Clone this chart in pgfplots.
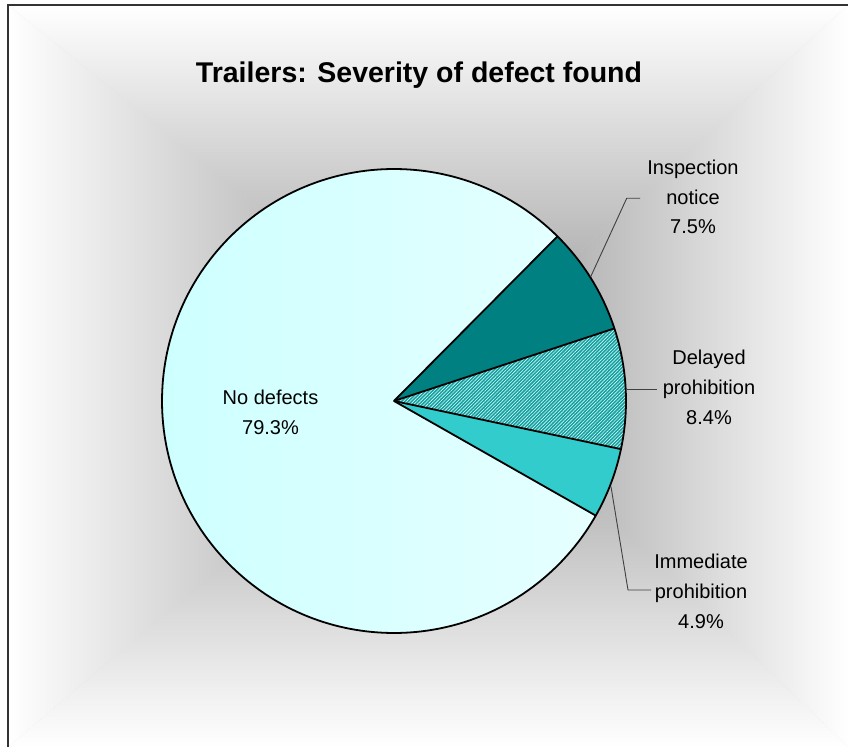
\documentclass[border=0pt]{standalone}
\usepackage{pgfplots}
\pgfplotsset{compat=1.18}
\usepackage{pgfplotstable}
\usepackage{fontspec}
\setmainfont{Liberation Sans}
\usetikzlibrary{patterns.meta}
\definecolor{inspect}{RGB}{0,128,128}
\definecolor{delayed}{RGB}{25,158,158}
\definecolor{immed}{RGB}{51,204,204}
\definecolor{nodefL}{RGB}{204,255,255}
\definecolor{nodefR}{RGB}{230,255,255}
\definecolor{bgc}{RGB}{150,150,150}
\definecolor{bgm}{RGB}{220,220,220}
\definecolor{bord}{RGB}{51,51,51}

\pgfplotstableread{
name value
Inspection 7.5
Delayed 8.4
Immediate 4.9
NoDefects 79.3
}\piedata

\begin{document}%
\begin{tikzpicture}
\pgfplotstablegetelem{0}{value}\of\piedata \let\vA\pgfplotsretval
\pgfplotstablegetelem{1}{value}\of\piedata \let\vB\pgfplotsretval
\pgfplotstablegetelem{2}{value}\of\piedata \let\vC\pgfplotsretval
\pgfplotstablegetelem{3}{value}\of\piedata \let\vD\pgfplotsretval
\pgfmathsetmacro\total{\vA+\vB+\vC+\vD}
\pgfmathsetmacro\aA{45.2}
\pgfmathsetmacro\aB{\aA-\vA/\total*360}
\pgfmathsetmacro\aC{\aB-\vB/\total*360}
\pgfmathsetmacro\aD{\aC-\vC/\total*360}
\pgfmathsetmacro\aE{\aD-\vD/\total*360}
\useasboundingbox (0,0) rectangle (848pt,747pt);
\begin{axis}[name=ax, anchor=origin, at={(0,0)}, x=1pt, y=1pt, xmin=0, xmax=848, ymin=0, ymax=747,
  hide axis, clip=false]
% background
\fill[white] (axis cs:0,0) rectangle (axis cs:848,747);
\fill[bgm] (axis cs:8,0) rectangle (axis cs:848,742);
\shade[top color=white, middle color=bgm, bottom color=bgc] (axis cs:8,742) -- (axis cs:848,742) -- (axis cs:455,380) -- cycle;
\shade[top color=bgc, middle color=bgm, bottom color=white] (axis cs:8,0) -- (axis cs:848,0) -- (axis cs:455,380) -- cycle;
\shade[left color=white, middle color=bgm, right color=bgc] (axis cs:8,0) -- (axis cs:8,742) -- (axis cs:455,380) -- cycle;
\shade[left color=bgc, middle color=bgm, right color=white] (axis cs:848,0) -- (axis cs:848,742) -- (axis cs:455,380) -- cycle;
% border
\draw[bord, line width=2pt] (axis cs:8,0) -- (axis cs:8,742) -- (axis cs:848,742);
% title
\node[anchor=base, font=\fontsize{28.5}{34}\selectfont\bfseries] at (axis cs:419,664) {Trailers: Severity of defect found};
% pie slices
\shade[left color=nodefL, right color=nodefR] (axis cs:394,346) -- ++(\aD:232pt) arc[start angle=\aD, end angle=\aE, radius=232pt] -- cycle;
\fill[inspect] (axis cs:394,346) -- ++(\aA:232pt) arc[start angle=\aA, end angle=\aB, radius=232pt] -- cycle;
\fill[delayed] (axis cs:394,346) -- ++(\aB:232pt) arc[start angle=\aB, end angle=\aC, radius=232pt] -- cycle;
\fill[pattern={Lines[angle=45, distance=2.4pt, line width=0.6pt]}, pattern color=white!80!cyan] (axis cs:394,346) -- ++(\aB:232pt) arc[start angle=\aB, end angle=\aC, radius=232pt] -- cycle;
\fill[immed] (axis cs:394,346) -- ++(\aC:232pt) arc[start angle=\aC, end angle=\aD, radius=232pt] -- cycle;
\draw[black, line width=1.8pt, line join=round] (axis cs:394,346) -- ++(\aA:232pt) arc[start angle=\aA, end angle=\aE, radius=232pt] -- cycle;
\draw[black, line width=1.8pt, line join=round] (axis cs:394,346) -- ++(\aB:232pt);
\draw[black, line width=1.8pt, line join=round] (axis cs:394,346) -- ++(\aC:232pt);
\draw[black, line width=1.8pt, line join=round] (axis cs:394,346) -- ++(\aD:232pt);
% leader lines
\draw[black!75, line width=0.9pt] (axis cs:590.7,470.3) -- (axis cs:626.7,548.7) -- (axis cs:640,548.7);
\draw[black!75, line width=0.9pt] (axis cs:626.7,357.7) -- (axis cs:656.7,357.7);
\draw[black!75, line width=0.9pt] (axis cs:611,260.3) -- (axis cs:628,157) -- (axis cs:651,157);
% labels
\begin{scope}[every node/.style={anchor=base, font=\fontsize{20}{24}\selectfont}]
\node at (axis cs:270.5,342) {No defects};
\node at (axis cs:270.5,312) {79.3\%};
\node at (axis cs:693,572) {Inspection};
\node at (axis cs:693,542.5) {notice};
\node at (axis cs:693,513) {7.5\%};
\node at (axis cs:709,382) {Delayed};
\node at (axis cs:709,352) {prohibition};
\node at (axis cs:709,322) {8.4\%};
\node at (axis cs:701,178.3) {Immediate};
\node at (axis cs:701,148.3) {prohibition};
\node at (axis cs:701,118.3) {4.9\%};
\end{scope}
\end{axis}
\end{tikzpicture}%
\end{document}
